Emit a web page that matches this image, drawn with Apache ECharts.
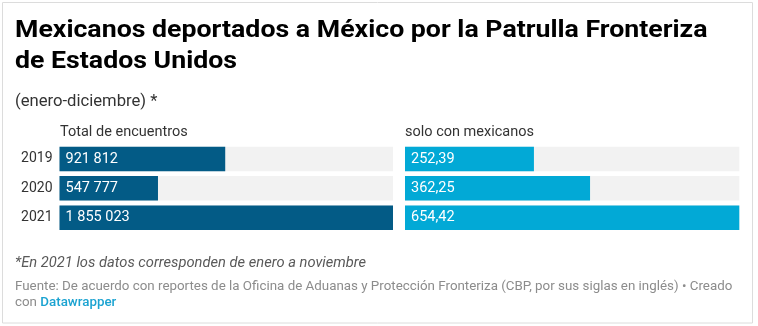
<!DOCTYPE html>
<html><head><meta charset="utf-8">
<script src="https://cdn.jsdelivr.net/npm/echarts@6/dist/echarts.min.js"></script>
<style>html,body{margin:0;padding:0;background:#fff}#c{width:758px;height:326px}</style>
</head><body><div id="c"></div>
<script>
const years = ['2019', '2020', '2021'];
const totalEncuentros = [921812, 547777, 1855023];
const soloMexicanos = [252.39, 362.25, 654.42];
const leftHeader = 'Total de encuentros';
const rightHeader = 'solo con mexicanos';
const titleLines = ['Mexicanos deportados a México por la Patrulla Fronteriza', 'de Estados Unidos'];
const subtitle = '(enero-diciembre) *';
const note = '*En 2021 los datos corresponden de enero a noviembre';
const source = 'Fuente: De acuerdo con reportes de la Oficina de Aduanas y Protección Fronteriza (CBP, por sus siglas en inglés) • Creado';

function fmtThousands(v){ return String(v).replace(/\B(?=(\d{3})+(?!\d))/g, ' '); }
function fmtDec(v){ return v.toFixed(2).replace('.', ','); }

const chart = echarts.init(document.getElementById('c'), null, {renderer:'canvas'});
const FONT = 'Roboto';
const gridTop = 144.3, gridH = 88;
function txt(text, x, y, size, color, opts){
  opts = opts || {};
  return {type:'text', x:x, y:y, scaleX:opts.sx || 1, silent:true,
    style:{text:text, x:0, y:0, fontFamily:FONT, fontSize:size, fontWeight:opts.w || 'normal',
      fontStyle:opts.it ? 'italic' : 'normal', fill:color, verticalAlign:'middle', align:'left', rich:opts.rich}};
}
chart.setOption({
  animation:false,
  textStyle:{fontFamily:FONT},
  graphic:[
    {type:'rect', shape:{x:2.5,y:2.5,width:750,height:320.5}, style:{fill:'none', stroke:'#dcdcdc', lineWidth:1}, z:-10, silent:true},
    txt(titleLines[0], 15, 31, 24.5, '#000', {w:'bold', sx:1.09}),
    txt(titleLines[1], 15, 62, 24.5, '#000', {w:'bold', sx:1.09}),
    txt(subtitle, 15, 102, 16, '#333', {sx:1.04}),
    txt(leftHeader, 60, 132, 14.5, '#333', {sx:1.0}),
    txt(rightHeader, 405, 132, 14.5, '#333', {sx:1.0}),
    txt(note, 15, 263.5, 14, '#595959', {it:true, sx:1.05}),
    txt(source, 15, 286.5, 13, '#8c8c8c', {sx:1.027}),
    txt('con {l|Datawrapper}', 15, 302.5, 13, '#8c8c8c', {sx:1.027,
       rich:{l:{fontFamily:FONT, fontSize:13, fill:'#1ba3d1', fontWeight:500}}})
  ],
  grid:[
    {left:59.5, width:333.5, top:gridTop, height:gridH},
    {left:405, width:334.3, top:gridTop, height:gridH}
  ],
  xAxis:[
    {gridIndex:0, type:'value', min:0, max:Math.max(...totalEncuentros), show:false},
    {gridIndex:1, type:'value', min:0, max:Math.max(...soloMexicanos), show:false}
  ],
  yAxis:[
    {gridIndex:0, type:'category', data:years, inverse:true, axisLine:{show:false}, axisTick:{show:false},
     axisLabel:{margin:7, fontFamily:FONT, fontSize:14, color:'#333'}},
    {gridIndex:1, type:'category', data:years, inverse:true, show:false}
  ],
  series:[
    {type:'bar', xAxisIndex:0, yAxisIndex:0, data:totalEncuentros, barWidth:24.5,
     itemStyle:{color:'#035b86'}, showBackground:true, backgroundStyle:{color:'#f2f2f2'},
     label:{show:true, position:'insideLeft', distance:6, color:'#fff', fontFamily:FONT, fontSize:14.5,
       formatter:p=>fmtThousands(p.value)}},
    {type:'bar', xAxisIndex:1, yAxisIndex:1, data:soloMexicanos, barWidth:24.5,
     itemStyle:{color:'#02a9d6'}, showBackground:true, backgroundStyle:{color:'#f2f2f2'},
     label:{show:true, position:'insideLeft', distance:6, color:'#fff', fontFamily:FONT, fontSize:14.5,
       formatter:p=>fmtDec(p.value)}}
  ]
});
</script></body></html>
